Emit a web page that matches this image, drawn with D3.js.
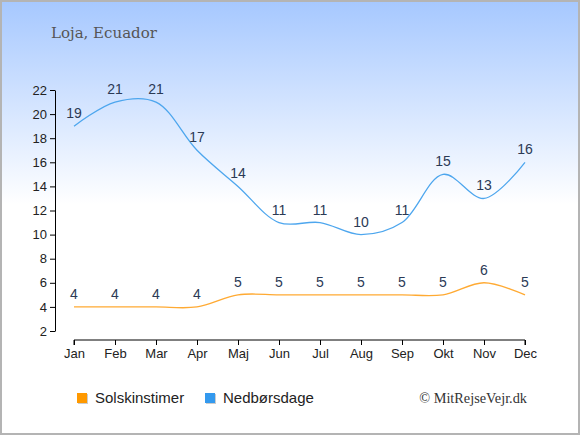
<!DOCTYPE html>
<html><head><meta charset="utf-8">
<script src="https://cdn.jsdelivr.net/npm/d3@7"></script>
<style>html,body{margin:0;padding:0;background:#fff}</style>
</head><body>
<script>
const months = ["Jan","Feb","Mar","Apr","Maj","Jun","Jul","Aug","Sep","Okt","Nov","Dec"];
const sunHours = [4,4,4,4,5,5,5,5,5,5,6,5];
const rainDays = [19,21,21,17,14,11,11,10,11,15,13,16];
const yTicks = [2,4,6,8,10,12,14,16,18,20,22];
const seriesNames = ["Solskinstimer","Nedbørsdage"];
const title = "Loja, Ecuador";
const credit = "© MitRejseVejr.dk";

const W=580,H=435;
const svg=d3.select("body").append("svg").attr("width",W).attr("height",H);
const defs=svg.append("defs");
const g=defs.append("linearGradient").attr("id","bg").attr("x1",0).attr("y1",0).attr("x2",0).attr("y2",1);
g.append("stop").attr("offset","0").attr("stop-color","#a6c8ff");
g.append("stop").attr("offset","0.47").attr("stop-color","#ffffff");
g.append("stop").attr("offset","1").attr("stop-color","#ffffff");
svg.append("rect").attr("x",1).attr("y",1).attr("width",W-2).attr("height",H-2).attr("fill","url(#bg)").attr("stroke","#b4b4b4").attr("stroke-width",2);

svg.append("text").attr("x",51).attr("y",38).text(title)
  .attr("font-family","'DejaVu Serif', serif").attr("font-size",15).attr("fill","#555");

const x=d3.scalePoint().domain(months).range([74,525]);
const y=d3.scaleLinear().domain([2,22]).range([331,90]);

const yAxis=svg.append("g").attr("transform","translate(55,0)")
  .call(d3.axisLeft(y).tickValues(yTicks).tickSize(5).tickPadding(3).tickSizeOuter(0));
yAxis.select(".domain").attr("stroke","#000");
yAxis.selectAll("text").attr("font-family","'Liberation Sans', Arial, sans-serif").attr("font-size",13).attr("fill","#222");

const xAxis=svg.append("g").attr("transform","translate(0,340)")
  .call(d3.axisBottom(x).tickSize(5).tickPadding(4).tickSizeOuter(0));
xAxis.select(".domain").attr("d","M74,5V0H525V5").attr("stroke","#000");
xAxis.selectAll("text").attr("font-family","'Liberation Sans', Arial, sans-serif").attr("font-size",13).attr("fill","#222");

const line=d3.line().x((d,i)=>x(months[i])).y(d=>y(d)).curve(d3.curveCatmullRom.alpha(0.5));
svg.append("path").datum(sunHours).attr("d",line).attr("fill","none").attr("stroke","#ffaa33").attr("stroke-width",1.4);
svg.append("path").datum(rainDays).attr("d",line).attr("fill","none").attr("stroke","#4da6ee").attr("stroke-width",1.3);

function labels(data){
  svg.append("g").selectAll("text").data(data).join("text")
    .attr("x",(d,i)=>x(months[i])).attr("y",d=>y(d)-8).attr("text-anchor","middle")
    .text(d=>d).attr("font-family","'Liberation Sans', Arial, sans-serif").attr("font-size",14).attr("fill","#2b3a55");
}
labels(sunHours); labels(rainDays);

const leg=[{n:seriesNames[0],c:"#ff9900",x:77},{n:seriesNames[1],c:"#3399ee",x:205}];
leg.forEach(l=>{
  svg.append("rect").attr("x",l.x+1).attr("y",394).attr("width",10).attr("height",10).attr("fill","#ccc");
  svg.append("rect").attr("x",l.x).attr("y",393).attr("width",10).attr("height",10).attr("fill",l.c);
  svg.append("text").attr("x",l.x+18).attr("y",403).text(l.n)
    .attr("font-family","'Liberation Sans', Arial, sans-serif").attr("font-size",15).attr("fill","#222");
});
svg.append("text").attr("x",527).attr("y",403).attr("text-anchor","end").text(credit)
  .attr("font-family","'Liberation Serif', 'DejaVu Serif', serif").attr("font-size",14.3).attr("fill","#333");
</script>
</body></html>
